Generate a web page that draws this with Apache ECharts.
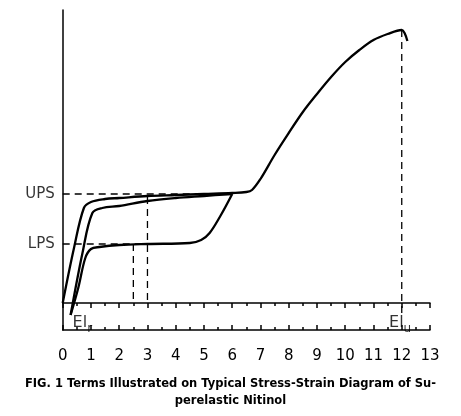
<!DOCTYPE html><html><head><meta charset="utf-8">
<script src="https://cdn.jsdelivr.net/npm/echarts@6/dist/echarts.min.js"></script>
<style>body{margin:0}#c{width:461px;height:416px}</style></head><body><div id="c"></div><script>
const xTicks=[0,1,2,3,4,5,6,7,8,9,10,11,12,13];
const UPS=109, LPS=59;
const outerLoad=[[0,0],[0.4,55],[0.75,95],[1,101],[1.5,104],[2,105],[3,107],[4,108],[5,109],[6,110],[6.5,111],[6.7,113],[7,124],[7.5,148],[8,170],[8.5,191],[9,209],[9.5,226],[10,241],[10.5,253],[11,263],[11.5,269],[12,273],[12.1,270],[12.2,262]];
const innerLoad=[[0.28,-12],[0.7,50],[1.05,90],[1.4,95],[2,97],[3,102],[4,105],[5,107],[6,109]];
const unload=[[6,109],[5.6,88],[5.2,70],[4.9,63],[4.5,60],[3,59],[2,58],[1.3,56],[1,54],[0.8,45],[0.55,15],[0.28,-12]];
const dashed=[[[0,UPS],[6,UPS]],[[0,LPS],[3,LPS]],[[2.5,LPS],[2.5,0]],[[3,106],[3,0]],[[12,273],[12,-10]]];
const yLabels=[{t:'UPS',v:UPS},{t:'LPS',v:LPS}];
const elLabels=[{x:0.35,y:-20,b:'El',s:'r'},{x:11.55,y:-20,b:'El',s:'u'}];
const F='DejaVu Sans';
const line=(d)=>({type:'line',data:d,smooth:0.35,symbol:'none',lineStyle:{color:'#000',width:2.3},z:3});
const series=[line(outerLoad),line(innerLoad),line(unload)];
dashed.forEach(d=>series.push({type:'line',data:d,symbol:'none',lineStyle:{color:'#000',width:1.3,type:[7,5]}}));
series.push({type:'scatter',data:yLabels.map(l=>[0,l.v,l.t]),symbolSize:0,label:{show:true,position:'left',distance:8,formatter:p=>p.data[2],color:'#000',fontFamily:F,fontSize:15}});
series.push({type:'scatter',data:elLabels.map(l=>[l.x,l.y,l.b,l.s]),symbolSize:0,label:{show:true,position:'right',distance:0,formatter:p=>'{b|'+p.data[2]+'}{s|'+p.data[3]+'}',rich:{b:{fontFamily:F,fontSize:16,color:'#000'},s:{fontFamily:F,fontSize:12,color:'#000',padding:[12,0,0,0]}}}});
const tickStyle={color:'#000',width:1.5};
const ax={type:'value',min:0,max:13,interval:1,position:'bottom',axisLine:{onZero:true,lineStyle:{color:'#000',width:1.5}},splitLine:{show:false}};
echarts.init(document.getElementById('c')).setOption({animation:false,
 grid:{left:62.7,right:31,top:10,bottom:86},
 title:{text:'FIG. 1 Terms Illustrated on Typical Stress-Strain Diagram of Su-\nperelastic Nitinol',left:'center',top:371,textStyle:{fontFamily:F,fontSize:11.5,fontWeight:'bold',color:'#000',lineHeight:17}},
 xAxis:[Object.assign({},ax,{axisTick:{length:5,lineStyle:tickStyle},minorTick:{show:true,splitNumber:2,length:3,lineStyle:tickStyle},axisLabel:{margin:19,color:'#000',fontFamily:F,fontSize:15}}),
  Object.assign({},ax,{axisTick:{inside:true,length:5,lineStyle:tickStyle},minorTick:{show:true,splitNumber:2,length:3,lineStyle:tickStyle},axisLabel:{show:false}})],
 yAxis:{type:'value',min:-27,max:293,axisLine:{show:true,onZero:false,lineStyle:{color:'#000',width:1.5}},axisTick:{show:false},axisLabel:{show:false},splitLine:{show:false}},
 series});
</script></body></html>
